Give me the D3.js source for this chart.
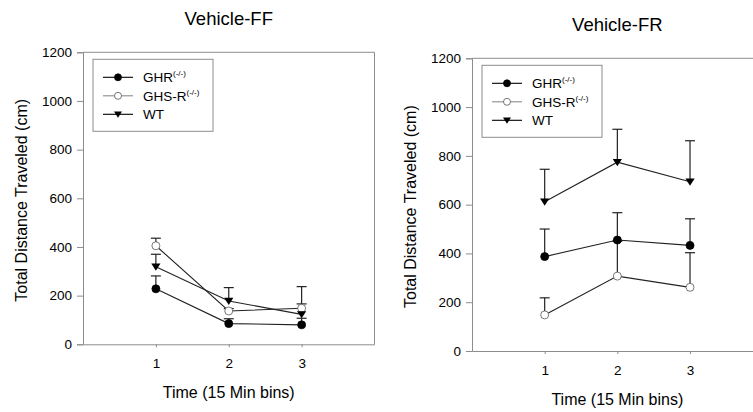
<!DOCTYPE html>
<html>
<head>
<meta charset="utf-8">
<script src="https://d3js.org/d3.v7.min.js"></script>
<style>
  body { margin: 0; background: #fff; }
  text { font-family: "Liberation Sans", Arial, sans-serif; fill: #000; }
</style>
</head>
<body>
<div id="chart"></div>
<script>
// x categories and y ticks
var bins = [1, 2, 3];
var yTicks = [0, 200, 400, 600, 800, 1000, 1200];
var seriesNames = ["GHR", "GHS-R", "WT"];

// Vehicle-FF (means and upper error)
var ffGHR = [228, 85, 80];
var ffGHRErr = [53, 20, 27];
var ffGHSR = [405, 137, 148];
var ffGHSRErr = [31, 10, 89];
var ffWT = [319, 178, 123];
var ffWTErr = [51, 55, 43];

// Vehicle-FR
var frGHR = [387, 455, 433];
var frGHRErr = [113, 112, 109];
var frGHSR = [148, 307, 261];
var frGHSRErr = [70, 143, 142];
var frWT = [612, 774, 694];
var frWTErr = [133, 135, 168];

var svg = d3.select("#chart").append("svg")
    .attr("width", 753)
    .attr("height", 412);

function drawPanel(opts) {
    var x = d3.scaleLinear().domain([0, 4]).range([opts.left, opts.right]);
    var y = d3.scaleLinear().domain([0, 1200]).range([opts.bottom, opts.top]);
    var g = svg.append("g");
    var axisColor = "#8c8c8c";

    // frame (top + right)
    g.append("path")
        .attr("d", "M" + x(0) + "," + y(1200) + "H" + x(4) + "V" + y(0))
        .attr("fill", "none").attr("stroke", axisColor);

    // y axis
    var yAxis = g.append("g")
        .attr("transform", "translate(" + x(0) + ",0)")
        .call(d3.axisLeft(y).tickValues(yTicks).tickFormat(d3.format("d")).tickSize(6).tickPadding(5));
    yAxis.select(".domain").attr("stroke", axisColor);
    yAxis.selectAll(".tick line").attr("stroke", axisColor);
    yAxis.selectAll("text").attr("font-size", "13.5px").attr("fill", "#000")
        .style("font-family", "Liberation Sans, Arial, sans-serif");

    // x axis
    var xAxis = g.append("g")
        .attr("transform", "translate(0," + y(0) + ")")
        .call(d3.axisBottom(x).tickValues(bins).tickFormat(d3.format("d")).tickSize(3).tickPadding(11).tickSizeOuter(0));
    xAxis.select(".domain").attr("stroke", axisColor);
    xAxis.selectAll(".tick line").attr("stroke", axisColor);
    xAxis.selectAll("text").attr("font-size", "13.5px").attr("fill", "#000")
        .style("font-family", "Liberation Sans, Arial, sans-serif");

    // titles
    g.append("text")
        .attr("x", x(2)).attr("y", opts.titleY)
        .attr("text-anchor", "middle").attr("font-size", "18.5px")
        .text(opts.title);
    g.append("text")
        .attr("x", x(2)).attr("y", y(0) + 54)
        .attr("text-anchor", "middle").attr("font-size", "16px")
        .text("Time (15 Min bins)");
    g.append("text")
        .attr("transform", "translate(" + (x(0) - 56) + "," + ((y(0) + y(1200)) / 2 + 2) + ") rotate(-90)")
        .attr("text-anchor", "middle").attr("font-size", "16px")
        .text("Total Distance Traveled (cm)");

    var series = [
        { name: seriesNames[0], vals: opts.data[0], err: opts.err[0], shape: "circle", fill: "#000", legendStroke: "#000" },
        { name: seriesNames[1], vals: opts.data[1], err: opts.err[1], shape: "circle", fill: "#fff", legendStroke: "#8c8c8c" },
        { name: seriesNames[2], vals: opts.data[2], err: opts.err[2], shape: "triangle", fill: "#000", legendStroke: "#000" }
    ];

    var line = d3.line()
        .x(function (d, i) { return x(bins[i]); })
        .y(function (d) { return y(d); });

    // upper error bars
    series.forEach(function (s) {
        s.vals.forEach(function (v, i) {
            var cx = x(bins[i]);
            g.append("line")
                .attr("x1", cx).attr("x2", cx)
                .attr("y1", y(v)).attr("y2", y(v + s.err[i]))
                .attr("stroke", "#222").attr("stroke-width", 1.2);
            g.append("line")
                .attr("x1", cx - 5).attr("x2", cx + 5)
                .attr("y1", y(v + s.err[i])).attr("y2", y(v + s.err[i]))
                .attr("stroke", "#222").attr("stroke-width", 1.2);
        });
    });

    // lines
    series.forEach(function (s) {
        g.append("path")
            .datum(s.vals)
            .attr("d", line)
            .attr("fill", "none")
            .attr("stroke", "#222")
            .attr("stroke-width", 1.1);
    });

    function marker(sel, s, cx, cy, r) {
        if (s.shape === "circle") {
            sel.append("circle")
                .attr("cx", cx).attr("cy", cy).attr("r", r)
                .attr("fill", s.fill).attr("stroke", s.fill === "#fff" ? "#555" : "#000")
                .attr("stroke-width", 0.8);
        } else {
            var w = r * 1.15, h = r * 1.8;
            sel.append("path")
                .attr("d", "M" + (cx - w) + "," + (cy - h * 0.45) + "L" + (cx + w) + "," + (cy - h * 0.45) +
                    "L" + cx + "," + (cy + h * 0.55) + "Z")
                .attr("fill", s.fill);
        }
    }

    // markers
    series.forEach(function (s) {
        s.vals.forEach(function (v, i) {
            marker(g, s, x(bins[i]), y(v), 4);
        });
    });

    // legend
    var lx = x(0) + 10, ly = y(1200) + opts.legendDy;
    g.append("rect")
        .attr("x", lx).attr("y", ly)
        .attr("width", 120).attr("height", 72)
        .attr("fill", "#fff").attr("stroke", axisColor);
    series.forEach(function (s, i) {
        var ry = ly + 18 + i * 18.5;
        g.append("line")
            .attr("x1", lx + 10).attr("x2", lx + 40)
            .attr("y1", ry).attr("y2", ry)
            .attr("stroke", s.legendStroke).attr("stroke-width", 1.1);
        marker(g, s, lx + 25, ry, 3.5);
        var t = g.append("text")
            .attr("x", lx + 50).attr("y", ry + 5)
            .attr("font-size", "13.5px");
        t.append("tspan").text(s.name);
        if (i < 2) {
            t.append("tspan").attr("font-size", "8px").attr("dy", -6).text("(-/-)");
        }
    });
}

drawPanel({
    title: "Vehicle-FF", titleY: 25,
    left: 83, right: 374.5, top: 52.3, bottom: 344.3, legendDy: 7,
    data: [ffGHR, ffGHSR, ffWT],
    err: [ffGHRErr, ffGHSRErr, ffWTErr]
});

drawPanel({
    title: "Vehicle-FR", titleY: 31,
    left: 472, right: 762.7, top: 58.3, bottom: 351, legendDy: 7,
    data: [frGHR, frGHSR, frWT],
    err: [frGHRErr, frGHSRErr, frWTErr]
});
</script>
</body>
</html>
